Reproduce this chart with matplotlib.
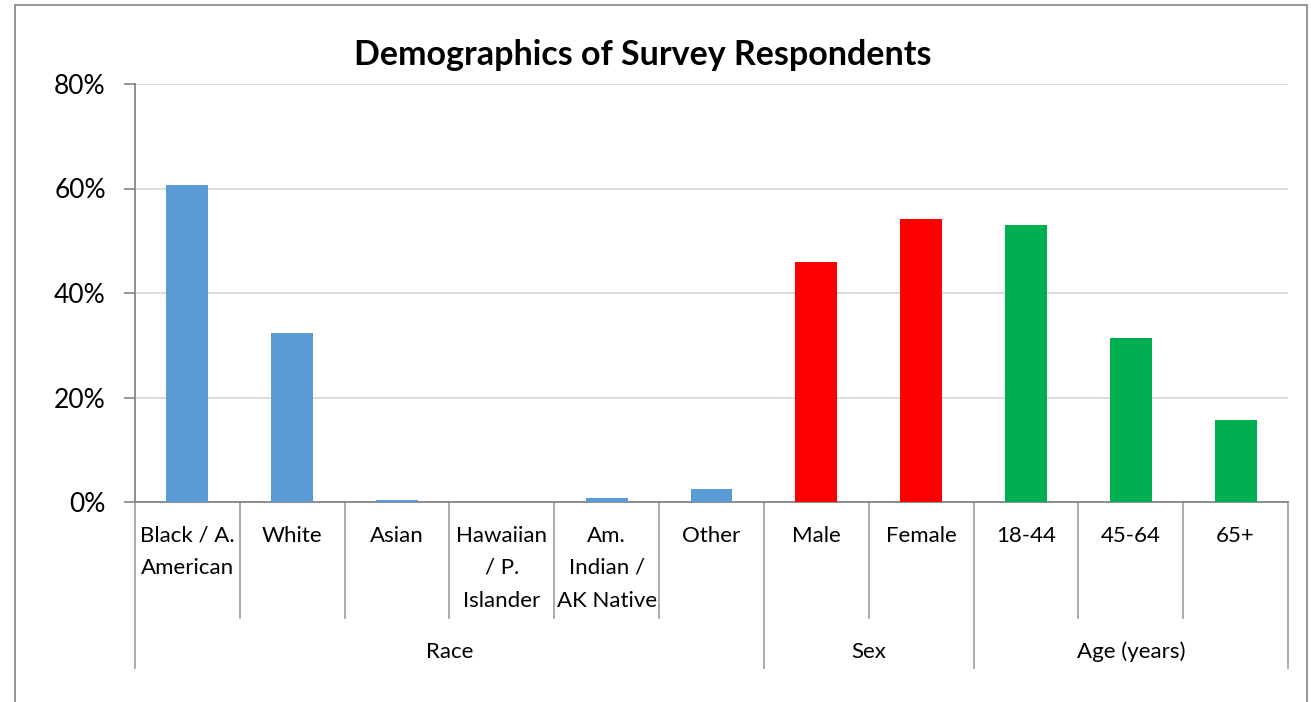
import matplotlib.pyplot as plt
from matplotlib.patches import Rectangle
from matplotlib.ticker import PercentFormatter
import matplotlib.transforms as mtransforms

# data
categories = ["Black / A.\nAmerican", "White", "Asian", "Hawaiian\n/ P.\nIslander",
              "Am.\nIndian /\nAK Native", "Other", "Male", "Female",
              "18-44", "45-64", "65+"]
values = [0.607, 0.324, 0.004, 0.0, 0.007, 0.024, 0.460, 0.541, 0.530, 0.313, 0.157]
groups = ["Race", "Sex", "Age (years)"]
group_sizes = [6, 2, 3]
group_colors = ["#5B9BD5", "#FF0000", "#00B050"]

plt.rcParams['font.family'] = ['Lato', 'DejaVu Sans']

W, H = 1311, 702
fig = plt.figure(figsize=(W / 100, H / 100), dpi=100)
fig.patch.set_facecolor("white")

# outer chart border
fig.add_artist(Rectangle((14.5 / W, -0.1), (1307 - 14.5) / W, 1.1 - 5.5 / H,
                         transform=fig.transFigure, fill=False,
                         edgecolor="#8C8C8C", linewidth=1.3))

x0, x1, y0, y1 = 135, 1288, 502, 84
ax = fig.add_axes([x0 / W, 1 - y0 / H, (x1 - x0) / W, (y0 - y1) / H])
ax_h = y0 - y1

colors = []
for c, n in zip(group_colors, group_sizes):
    colors += [c] * n

xs = list(range(len(categories)))
ax.bar(xs, values, width=0.4, color=colors, zorder=3)

ax.set_xlim(-0.5, len(categories) - 0.5)
ax.set_ylim(0, 0.8)
ax.set_yticks([0, 0.2, 0.4, 0.6, 0.8])
ax.yaxis.set_major_formatter(PercentFormatter(1.0, decimals=0))
ax.tick_params(axis="y", length=8, width=1.2, color="#868686", pad=13,
               labelsize=19, labelcolor="black")
ax.set_xticks([])
ax.grid(axis="y", color="#D9D9D9", linewidth=1.3, zorder=0)
for s in ["top", "right"]:
    ax.spines[s].set_visible(False)
for s in ["left", "bottom"]:
    ax.spines[s].set_color("#868686")
    ax.spines[s].set_linewidth(1.3)

trans = mtransforms.blended_transform_factory(ax.transData, ax.transAxes)


def px_to_ax(py):
    return (y0 - py) / ax_h


# category separators
short_y = px_to_ax(618)
long_y = px_to_ax(668)
bounds = [-0.5]
acc = -0.5
for n in group_sizes:
    acc += n
    bounds.append(acc)
for i in range(len(categories) + 1):
    xb = i - 0.5
    yb = long_y if xb in bounds else short_y
    ax.plot([xb, xb], [0, yb], transform=trans, color="#A6A6A6",
            linewidth=1.3, clip_on=False)

# category labels, line by line
line_y = [536, 568, 601]
for x, lab in zip(xs, categories):
    for j, line in enumerate(lab.split("\n")):
        ax.text(x, px_to_ax(line_y[j]), line, transform=trans, ha="center",
                va="center", fontsize=16, color="black")

# group labels
for g, a, b in zip(groups, bounds[:-1], bounds[1:]):
    ax.text((a + b) / 2, px_to_ax(652), g, transform=trans, ha="center",
            va="center", fontsize=16, color="black")

fig.text(643 / W, 1 - 55 / H, "Demographics of Survey Respondents",
         ha="center", va="center", fontsize=24.5, fontweight="bold")

fig.savefig("out.png", dpi=100)
